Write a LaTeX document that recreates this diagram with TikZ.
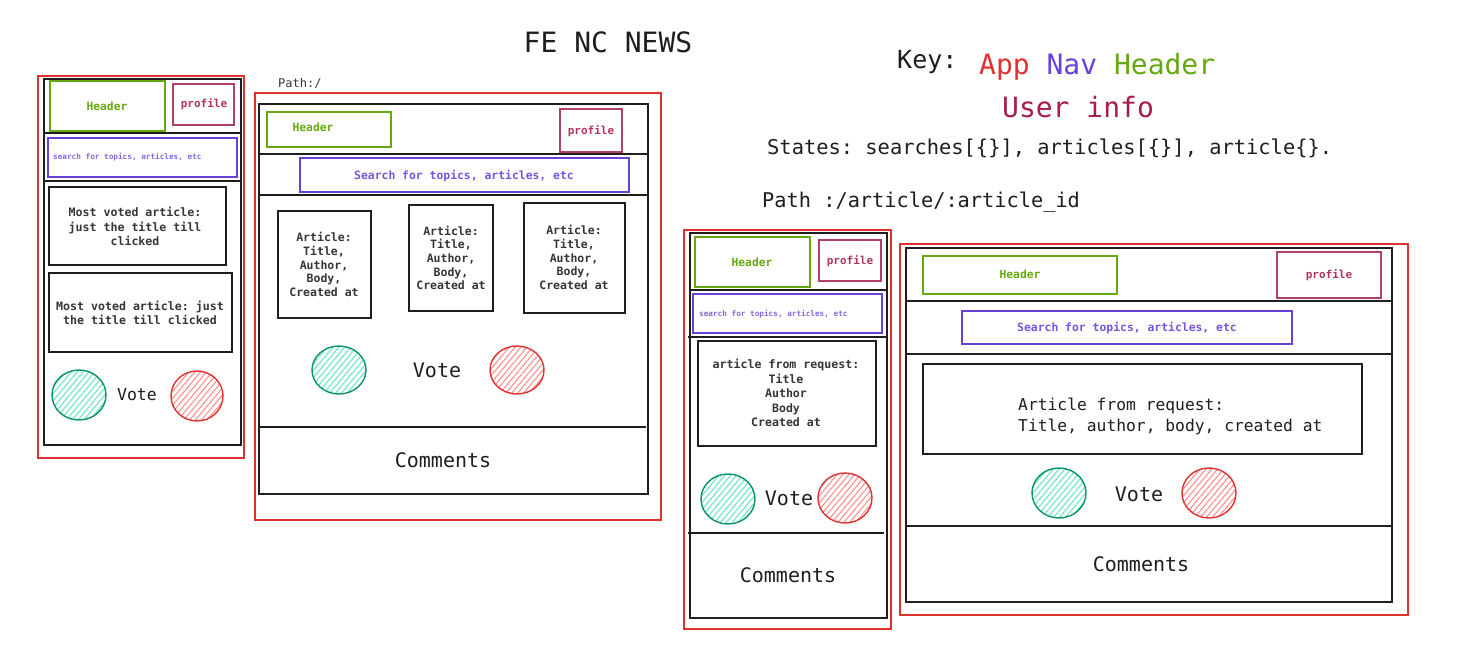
\documentclass[tikz,border=0pt]{standalone}
\usepackage{fontspec}
\setmainfont{DejaVu Sans Mono}
\usetikzlibrary{patterns.meta}
\definecolor{ink}{HTML}{1E1E1E}
\definecolor{appred}{HTML}{E03131}
\definecolor{navpurple}{HTML}{6741D9}
\definecolor{hdrgreen}{HTML}{66A80F}
\definecolor{userpink}{HTML}{A61E4D}
\definecolor{votegreen}{HTML}{099268}
\definecolor{votegreenfill}{HTML}{63E6BE}
\definecolor{votered}{HTML}{E03131}
\definecolor{voteredfill}{HTML}{FF8787}
\newcommand\fsz[2]{\fontsize{#1}{#2}\selectfont}
\tikzset{
  app/.style={draw=appred, line width=1.2pt},
  frame/.style={draw=ink, line width=1.7pt},
  hdr/.style={draw=hdrgreen, line width=1.6pt},
  prof/.style={draw=userpink!85, line width=1.4pt},
  nav/.style={draw=navpurple, line width=1.5pt},
  card/.style={draw=ink, line width=1.7pt},
  hdrtxt/.style={text=hdrgreen, font=\fsz{11.3}{13}\bfseries, inner sep=0pt},
  proftxt/.style={text=userpink!90, font=\fsz{11}{13}\bfseries, inner sep=0pt},
  navsmall/.style={text=navpurple!80, font=\fsz{7.7}{9}\bfseries, inner sep=0pt},
  navtxt/.style={text=navpurple!90, font=\fsz{11.4}{13}\bfseries, inner sep=0pt},
  cardtxt/.style={text=ink!90, font=\fsz{11.6}{14.3}\bfseries, align=center, inner sep=0pt},
  bigtxt/.style={text=ink, font=\fsz{20}{24}, inner sep=0pt},
  upvote/.style={draw=votegreen, line width=1.4pt, pattern={Lines[angle=50,distance=4.5pt,line width=1pt]}, pattern color=votegreenfill},
  downvote/.style={draw=votered, line width=1.4pt, pattern={Lines[angle=50,distance=4.5pt,line width=1pt]}, pattern color=voteredfill},
}
\begin{document}
\frenchspacing
\begin{tikzpicture}[x=1pt,y=-1pt]
\useasboundingbox[fill=white] (0,0) rectangle (1462,667);

% ---------- title and key ----------
\node[anchor=base, text=ink, font=\fsz{28}{32}, inner sep=0pt] (title) at (608,52) {FE NC NEWS};
\node[anchor=base west, text=ink, font=\fsz{25}{30}, inner sep=0pt] (key) at (897,68) {Key:};
\node[anchor=base west, font=\fsz{28}{32}, inner sep=0pt] (keyitems) at (979,74) {\textcolor{appred}{App} \textcolor{navpurple}{Nav} \textcolor{hdrgreen}{Header}};
\node[anchor=base, text=userpink, font=\fsz{28}{32}, inner sep=0pt] (keyuser) at (1078,117) {User info};
\node[anchor=base west, text=ink, font=\fsz{20.4}{24}, inner sep=0pt] (states) at (767,154) {States: searches[\{\}], articles[\{\}], article\{\}.};
\node[anchor=base west, text=ink, font=\fsz{20.3}{24}, inner sep=0pt] (path2) at (762,207) {Path :/article/:article\_id};

% ---------- left mobile home ----------
\draw[app] (38,76) rectangle (244,458);
\draw[frame] (44,79) rectangle (241,445);
\draw[frame] (44,133) -- (241,133);
\draw[frame] (44,181) -- (241,181);
\draw[hdr] (50,81) rectangle (165,131);
\node[hdrtxt] (lhdr) at (107,106) {Header};
\draw[prof] (173,84) rectangle (234,125);
\node[proftxt] (lprof) at (204,104) {profile};
\draw[nav] (48,138) rectangle (237,177);
\node[navsmall, anchor=west] (lsearch) at (53,157) {search for topics, articles, etc};
\draw[card] (49,187) rectangle (226,265);
\node[cardtxt] (lart1) at (135,226.5) {Most voted article:\\just the title till\\clicked};
\draw[card] (49,273) rectangle (232,352);
\node[cardtxt] (lart2) at (140,313) {Most voted article: just\\the title till clicked};
\draw[upvote] (79,395) ellipse [x radius=27pt, y radius=25pt];
\draw[downvote] (197,396) ellipse [x radius=26pt, y radius=25pt];
\node[text=ink, font=\fsz{16.5}{20}, inner sep=0pt] (lvote) at (137,395) {Vote};

% ---------- center desktop home ----------
\node[anchor=base west, text=ink!90, font=\fsz{12}{14}, inner sep=0pt] (path1) at (278,87) {Path:/};
\draw[app] (255,93) rectangle (661,520);
\draw[frame] (259,104) rectangle (648,494);
\draw[frame] (259,154) -- (648,154);
\draw[frame] (259,195) -- (648,195);
\draw[frame] (259,427) -- (646,427);
\draw[hdr] (267,112) rectangle (391,147);
\node[hdrtxt] (chdr) at (313,127) {Header};
\draw[prof] (560,109) rectangle (622,152);
\node[proftxt] (cprof) at (591,131) {profile};
\draw[nav] (300,158) rectangle (629,192);
\node[navtxt] (csearch) at (464,176) {Search for topics, articles, etc};
\draw[card] (278,211) rectangle (371,318);
\node[cardtxt, font=\fsz{11.5}{13.6}\bfseries] (cart1) at (324,264.5) {Article:\\Title,\\Author,\\Body,\\Created at};
\draw[card] (409,205) rectangle (493,311);
\node[cardtxt, font=\fsz{11.5}{13.6}\bfseries] (cart2) at (451,258) {Article:\\Title,\\Author,\\Body,\\Created at};
\draw[card] (524,203) rectangle (625,313);
\node[cardtxt, font=\fsz{11.5}{13.6}\bfseries] (cart3) at (574,257.5) {Article:\\Title,\\Author,\\Body,\\Created at};
\draw[upvote] (339,370) ellipse [x radius=27pt, y radius=24pt];
\draw[downvote] (517,370) ellipse [x radius=27pt, y radius=24pt];
\node[bigtxt] (cvote) at (437,370) {Vote};
\node[bigtxt] (ccomments) at (443,460) {Comments};

% ---------- right mobile article ----------
\draw[app] (684,230) rectangle (891,629);
\draw[frame] (690,233) rectangle (887,618);
\draw[frame] (690,290) -- (887,290);
\draw[frame] (688,337) -- (887,337);
\draw[frame] (688,533) -- (884,533);
\draw[hdr] (695,237) rectangle (810,287);
\node[hdrtxt] (rmhdr) at (752,262) {Header};
\draw[prof] (819,240) rectangle (881,281);
\node[proftxt] (rmprof) at (850,261) {profile};
\draw[nav] (693,294) rectangle (882,333);
\node[navsmall, anchor=west] (rmsearch) at (699,314) {search for topics, articles, etc};
\draw[card] (698,341) rectangle (876,446);
\node[cardtxt, font=\fsz{11.6}{14.5}\bfseries] (rmart) at (786,393) {article from request:\\Title\\Author\\Body\\Created at};
\draw[upvote] (728,499) ellipse [x radius=27pt, y radius=25pt];
\draw[downvote] (845,498) ellipse [x radius=27pt, y radius=25pt];
\node[bigtxt] (rmvote) at (789,498) {Vote};
\node[bigtxt] (rmcomments) at (788,575) {Comments};

% ---------- right desktop article ----------
\draw[app] (900,244) rectangle (1408,615);
\draw[frame] (906,248) rectangle (1392,602);
\draw[frame] (906,301) -- (1392,301);
\draw[frame] (906,354) -- (1392,354);
\draw[frame] (906,526) -- (1392,526);
\draw[hdr] (923,256) rectangle (1117,294);
\node[hdrtxt] (rdhdr) at (1020,274) {Header};
\draw[prof] (1277,252) rectangle (1381,298);
\node[proftxt] (rdprof) at (1329,275) {profile};
\draw[nav] (962,311) rectangle (1292,344);
\node[navtxt] (rdsearch) at (1127,328) {Search for topics, articles, etc};
\draw[card] (923,364) rectangle (1362,454);
\node[text=ink, font=\fsz{16.3}{21}, align=left, anchor=west, inner sep=0pt] (rdart) at (1018,416.5) {Article from request:\\Title, author, body, created at};
\draw[upvote] (1059,493) ellipse [x radius=27pt, y radius=25pt];
\draw[downvote] (1209,493) ellipse [x radius=27pt, y radius=25pt];
\node[bigtxt] (rdvote) at (1139,494) {Vote};
\node[bigtxt] (rdcomments) at (1141,564) {Comments};
\end{tikzpicture}
\end{document}
